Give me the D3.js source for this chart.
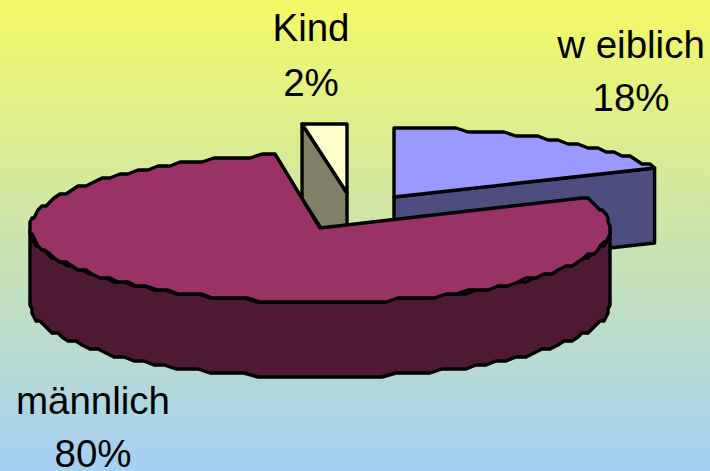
<!DOCTYPE html>
<html><head><meta charset="utf-8">
<script src="https://cdnjs.cloudflare.com/ajax/libs/d3/7.8.5/d3.min.js"></script>
<style>html,body{margin:0;padding:0;background:#fff}svg{display:block}text{font-family:"Liberation Sans",Arial,sans-serif;font-size:38.5px;fill:#000;text-anchor:middle}</style>
</head><body><script>
const categories = ["w eiblich", "männlich", "Kind"];
const values = [18, 80, 2];
const percentLabels = ["18%", "80%", "2%"];

const W = 710, H = 471;
const svg = d3.select("body").append("svg").attr("width", W).attr("height", H);
const grad = svg.append("defs").append("linearGradient").attr("id","bg").attr("x1",0).attr("y1",0).attr("x2",0).attr("y2",1);
grad.append("stop").attr("offset",0).attr("stop-color","#f3f966");
grad.append("stop").attr("offset",1).attr("stop-color","#a4d0f4");
svg.append("rect").attr("width",W).attr("height",H).attr("fill","url(#bg)");

const arcs = d3.pie().sort(null).value(d=>d)(values);
// perspective warp of the pie's angles
const warp = d3.scaleLinear().domain([0, arcs[0].endAngle, arcs[1].endAngle, 2*Math.PI])
  .range([0, arcs[0].endAngle, arcs[1].endAngle-0.03, 2*Math.PI]);

const depth = 75;
const geom = [
  {cx:394, cy:197, rx:288, ry:69, top:"#9999ff", side:"#4d4d80"},
  {cx:320, cy:228, rx:290, ry:74, top:"#993366", side:"#4d1933"},
  {cx:347, cy:193, rx:290, ry:69, top:"#ffffcc", side:"#808066"}
];
const line = d3.line();
const step = Math.PI/72;
function rimPoint(g,a){
  const off=(g.cy-g.ry)%4, y=g.cy-g.ry*Math.cos(a);
  return [g.cx+g.rx*Math.sin(a), Math.round((y-off)/4)*4+off];
}
function rim(g,a0,a1){
  const n = Math.max(1,Math.round((a1-a0)/step)), pts=[];
  for(let i=0;i<=n;i++){
    const p=rimPoint(g,a0+(a1-a0)*i/n);
    pts.push(i===0||i===n ? p : [Math.round(p[0]/2)*2,p[1]]);
  }
  return pts;
}
function draw(pts,fill){
  svg.append("path").attr("d",line(pts)+"Z").attr("fill",fill)
    .attr("stroke","#000").attr("stroke-width",3.4).attr("stroke-linejoin","round");
}
const down = p=>[p[0],p[1]+depth];

[0,2,1].forEach(i=>{
  const d=arcs[i], g=geom[i], a0=warp(d.startAngle), a1=warp(d.endAngle), apex=[g.cx,g.cy];
  if(i===0){
    const e=rimPoint(g,a1);
    draw([apex,e,down(e),down(apex)],g.side);
  } else if(i===2){
    const s=rimPoint(g,a0);
    draw([apex,s,down(s),down(apex)],g.side);
  } else {
    const front=rim(g,Math.PI/2,3*Math.PI/2);
    draw(front.concat(front.map(down).reverse()),g.side);
  }
  draw([apex].concat(rim(g,a0,a1)),g.top);
});

const labelPos = [[631,58,111],[93,414,467],[311,41,96]];
const texts = svg.append("g");
categories.forEach((c,i)=>{
  const p=labelPos[i];
  texts.append("text").attr("x",p[0]).attr("y",p[1]).text(c);
  texts.append("text").attr("x",p[0]).attr("y",p[2]).text(percentLabels[i]);
});
</script></body></html>
